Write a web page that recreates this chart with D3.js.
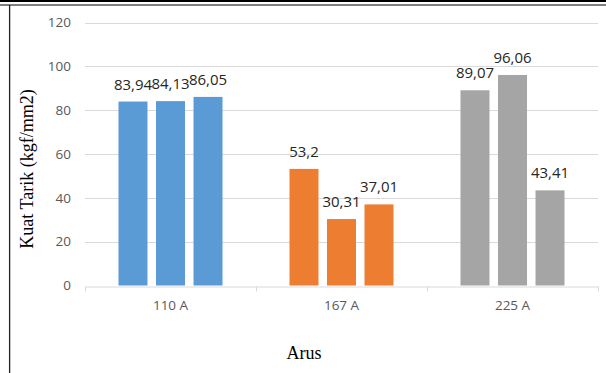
<!DOCTYPE html>
<html>
<head>
<meta charset="utf-8">
<script src="https://cdn.jsdelivr.net/npm/d3@7.9.0/dist/d3.min.js"></script>
<style>
  html, body { margin: 0; padding: 0; background: #fff; }
  svg { display: block; }
</style>
</head>
<body>
<svg id="chart" width="606" height="373"></svg>
<script>
// data
const categories = ['110 A', '167 A', '225 A'];
const samples = ['s1', 's2', 's3'];
const values = [
  [83.94, 84.13, 86.05],
  [53.2, 30.31, 37.01],
  [89.07, 96.06, 43.41]
];
const labels = [
  ['83,94', '84,13', '86,05'],
  ['53,2', '30,31', '37,01'],
  ['89,07', '96,06', '43,41']
];
const yTicks = [0, 20, 40, 60, 80, 100, 120];
const colors = ['#5b9bd5', '#ed7d31', '#a5a5a5'];

const svg = d3.select('#chart');

// frame lines around the picture
svg.append('rect').attr('x', 0).attr('y', 0).attr('width', 606).attr('height', 2).attr('fill', '#000');
svg.append('line').attr('x1', 0).attr('x2', 606).attr('y1', 5).attr('y2', 5)
  .attr('stroke', '#000').attr('stroke-width', 1.2);
svg.append('line').attr('x1', 9.6).attr('x2', 9.6).attr('y1', 5).attr('y2', 373)
  .attr('stroke', '#222').attr('stroke-width', 1.3);

const plotLeft = 85, plotRight = 598, plotTop = 22.5, plotBottom = 285.5;

const x0 = d3.scaleBand().domain(categories).range([plotLeft, plotRight]).padding(0);
const x1 = d3.scaleBand().domain(samples).range([0, x0.bandwidth()])
  .paddingInner(0.227).paddingOuter(0.893);
const y = d3.scaleLinear().domain([0, 120]).range([plotBottom, plotTop]);

// gridlines
svg.append('g').selectAll('line').data(yTicks.filter(d => d > 0)).join('line')
  .attr('x1', plotLeft).attr('x2', plotRight)
  .attr('y1', d => Math.round(y(d)) + 0.5).attr('y2', d => Math.round(y(d)) + 0.5)
  .attr('stroke', '#d9d9d9').attr('stroke-width', 1);

// y axis labels
const yAxis = svg.append('g').attr('transform', `translate(${plotLeft},0)`)
  .call(d3.axisLeft(y).tickValues(yTicks).tickSize(0).tickPadding(14));
yAxis.select('.domain').remove();
yAxis.selectAll('text')
  .attr('fill', '#595959').style('font-family', 'Open Sans').style('font-size', '13.5px');

// bars
const groups = svg.append('g').selectAll('g').data(categories).join('g')
  .attr('transform', d => `translate(${x0(d)},0)`);

groups.each(function (cat, ci) {
  const g = d3.select(this);
  g.selectAll('rect').data(values[ci]).join('rect')
    .attr('x', (d, i) => x1(samples[i]))
    .attr('width', x1.bandwidth())
    .attr('y', d => y(d))
    .attr('height', d => y(0) - y(d))
    .attr('fill', colors[ci]);
  g.selectAll('text').data(values[ci]).join('text')
    .attr('x', (d, i) => x1(samples[i]) + x1.bandwidth() / 2)
    .attr('y', d => y(d) - 12)
    .attr('text-anchor', 'middle')
    .attr('fill', '#262626')
    .style('font-family', 'Open Sans').style('font-size', '15px')
    .text((d, i) => labels[ci][i]);
});

// x axis
const xAxis = svg.append('g').attr('transform', `translate(0,${Math.round(plotBottom) + 0.5})`)
  .call(d3.axisBottom(x0).tickSize(0).tickPadding(14));
xAxis.select('.domain').attr('stroke', '#d9d9d9');
xAxis.selectAll('text')
  .attr('fill', '#595959').style('font-family', 'Open Sans').style('font-size', '13.5px');
// category separator ticks
xAxis.append('g').selectAll('line')
  .data(categories.map(c => x0(c)).concat([x0(categories[categories.length - 1]) + x0.bandwidth()]))
  .join('line')
  .attr('x1', d => Math.round(d) + 0.5).attr('x2', d => Math.round(d) + 0.5)
  .attr('y1', 0).attr('y2', 5)
  .attr('stroke', '#d9d9d9');

// axis titles
svg.append('text')
  .attr('transform', `translate(33,${(plotTop + plotBottom) / 2 + 15}) rotate(-90)`)
  .attr('text-anchor', 'middle')
  .style('font-family', 'Liberation Serif').style('font-size', '18px')
  .attr('fill', '#000')
  .text('Kuat Tarik (kgf/mm2)');

svg.append('text')
  .attr('x', 304).attr('y', 359)
  .attr('text-anchor', 'middle')
  .style('font-family', 'Liberation Serif').style('font-size', '18px')
  .attr('fill', '#000')
  .text('Arus');
</script>
</body>
</html>
